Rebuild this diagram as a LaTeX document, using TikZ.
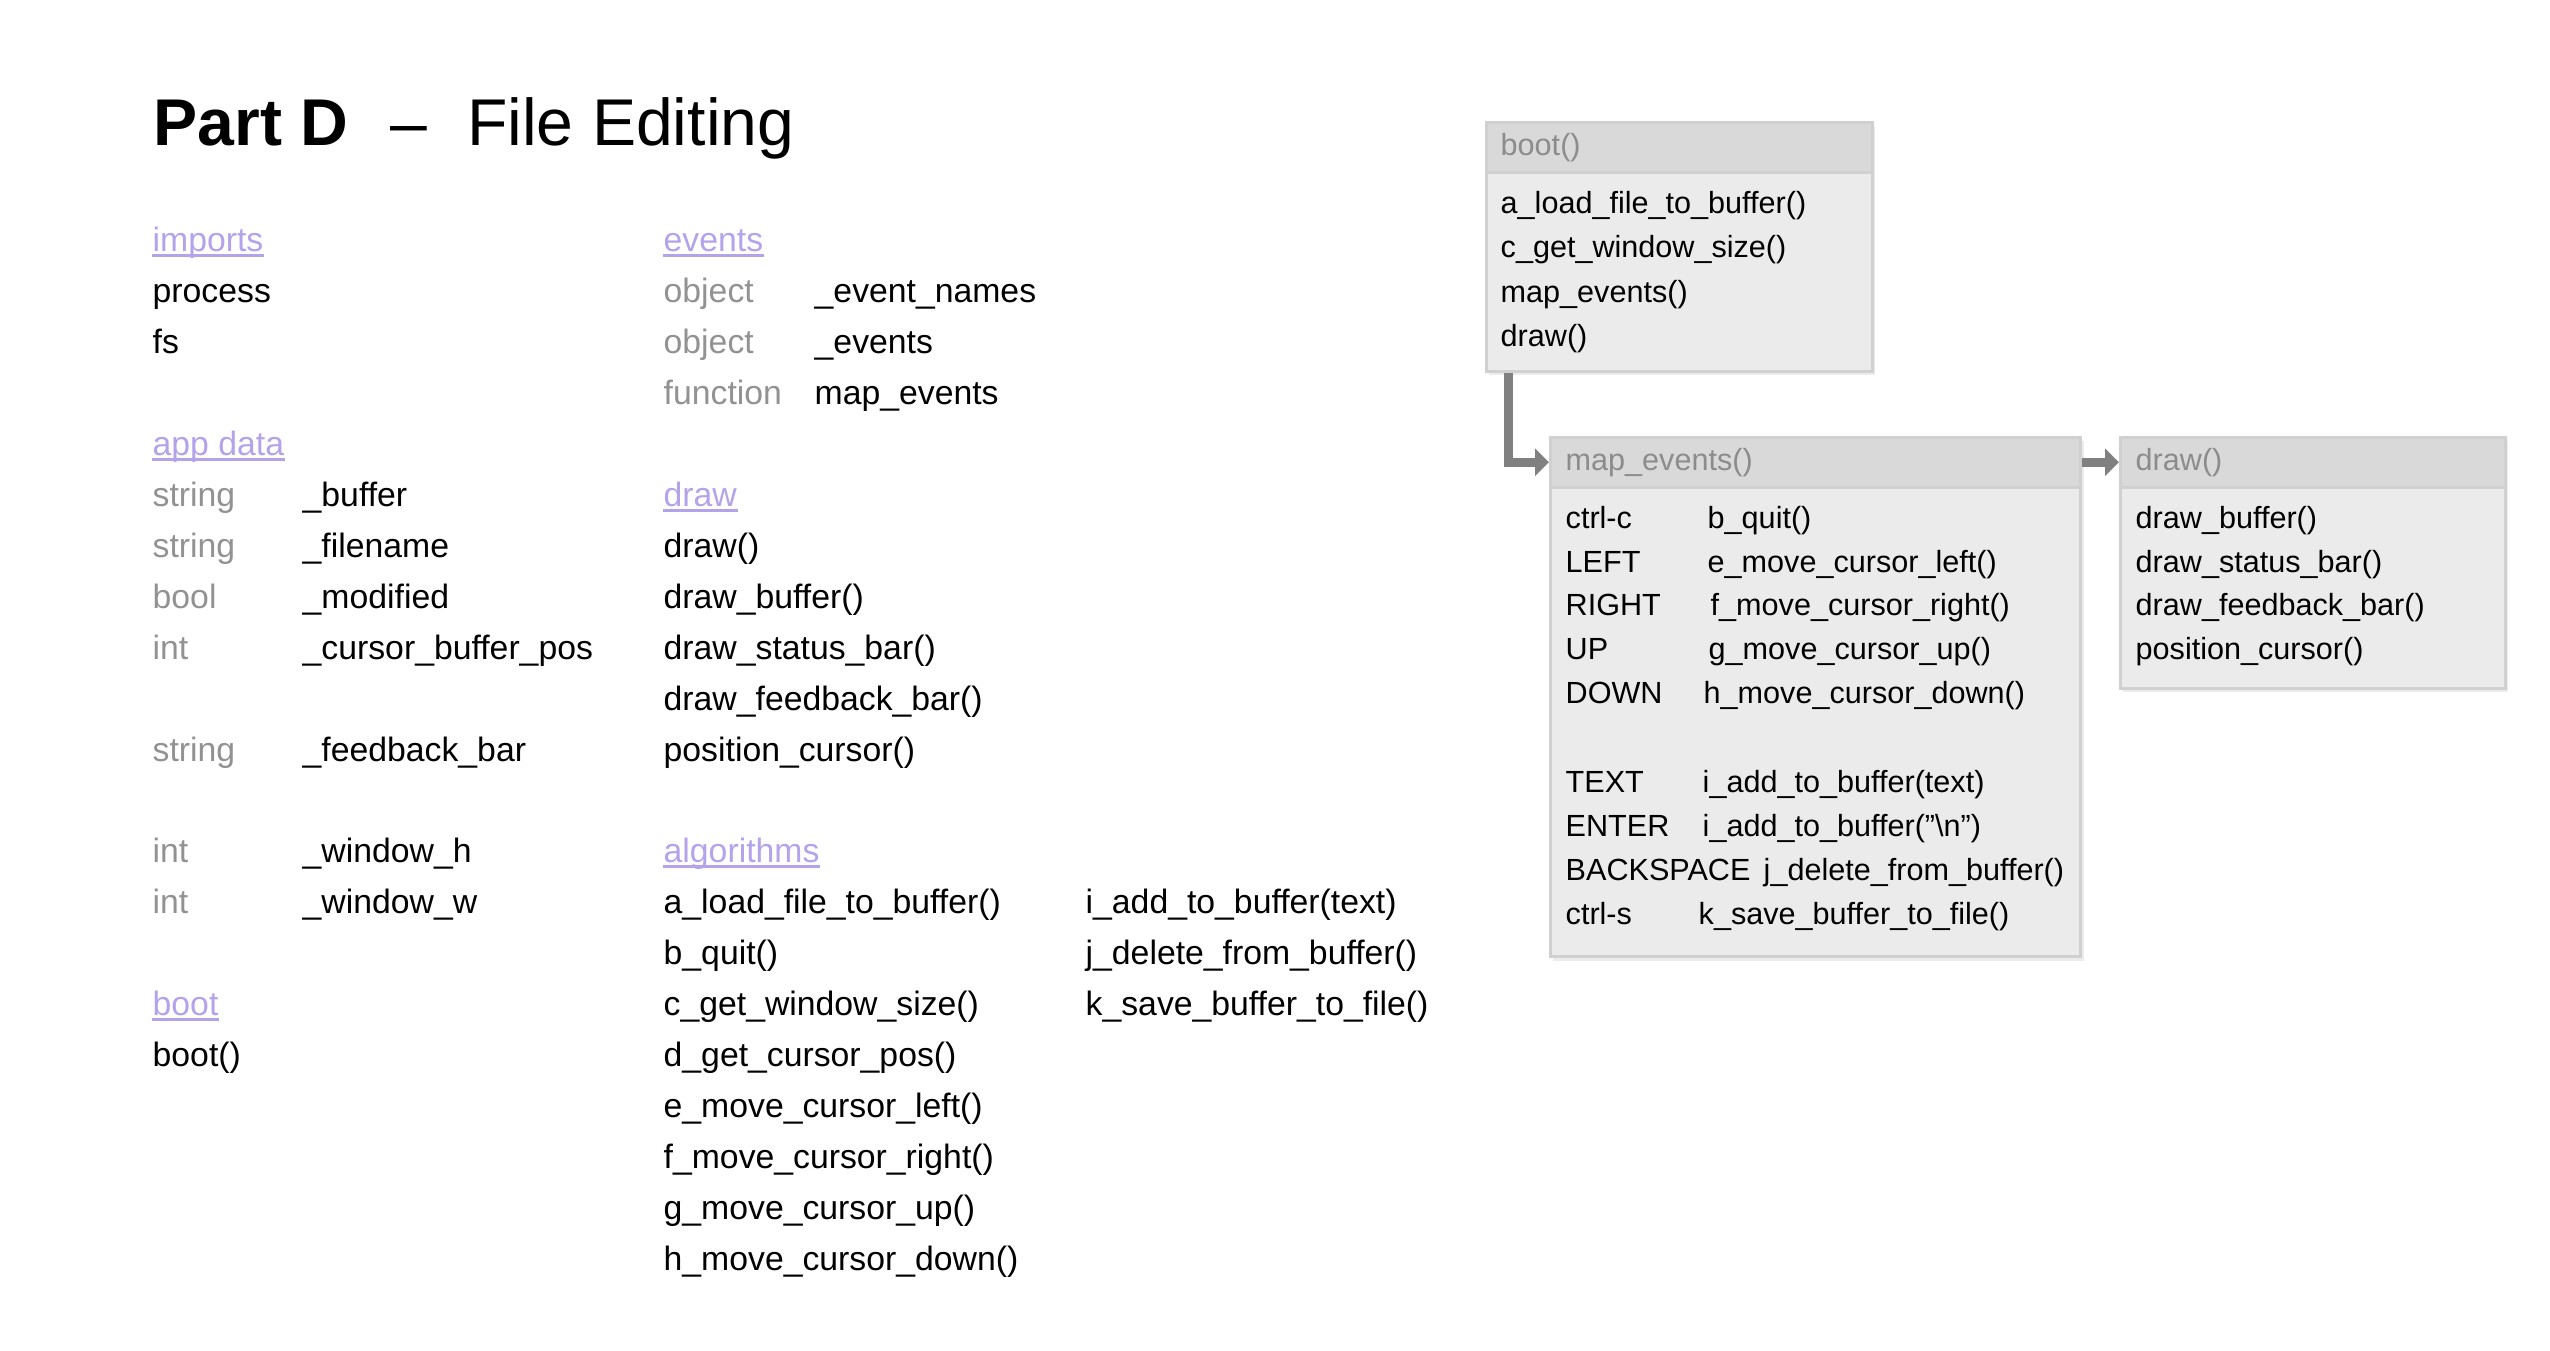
\documentclass[tikz,border=0pt]{standalone}
\usepackage{fontspec}
\setmainfont{Liberation Sans}
\usetikzlibrary{arrows.meta,shadows}
\definecolor{linkpurple}{HTML}{B4A2EA}
\definecolor{typegray}{HTML}{929292}
\definecolor{headgray}{HTML}{8C8C8C}
\definecolor{headfill}{HTML}{D9D9D9}
\definecolor{bodyfill}{HTML}{EBEBEB}
\definecolor{edgegray}{HTML}{D0D0D0}
\definecolor{arrowgray}{HTML}{808080}

\begin{document}
\begin{tikzpicture}[x=0.01cm, y=-0.01cm,
    txt/.style ={anchor=base west, inner sep=0pt, font=\fontsize{9.6}{11}\selectfont},
    typ/.style ={txt, text=typegray},
    hd/.style ={txt, text=linkpurple,
      append after command={([yshift=-0.45mm]\tikzlastnode.base west) edge[draw=linkpurple, line width=0.25mm] ([yshift=-0.45mm]\tikzlastnode.base east)}},
    boxtxt/.style ={anchor=base west, inner sep=0pt, font=\fontsize{8.7}{10}\selectfont},
    boxhd/.style ={boxtxt, text=headgray},
    boxbody/.style ={draw=edgegray, fill=bodyfill, line width=0.25mm, inner sep=0pt, anchor=north west,
      drop shadow={shadow xshift=0.3mm, shadow yshift=-0.4mm, opacity=0.15}},
    boxhead/.style ={draw=edgegray, fill=headfill, line width=0.25mm, inner sep=0pt, anchor=north west},
    conn/.style ={draw=arrowgray, line width=0.09cm, -{Triangle[length=0.14cm, width=0.27cm]}}]
   \useasboundingbox (0,0) rectangle (2550,1351);

   \node[anchor=base west, inner sep=0pt, font=\fontsize{18.8}{22}\selectfont] (title) at (153,145)
      {\textbf{Part D}\hspace{0.42cm}–\hspace{0.40cm}File Editing};

   % left column
   \node[hd] (imp) at (152,251) {imports};
   \node[txt] (proc) at (152,302) {process};
   \node[txt] (fs) at (152,353) {fs};
   \node[hd] (app) at (152,455) {app data};
   \node[typ] (t1) at (152,506) {string};   \node[txt] (v1) at (302,506) {\_buffer};
   \node[typ] (t2) at (152,557) {string};   \node[txt] (v2) at (302,557) {\_filename};
   \node[typ] (t3) at (152,608) {bool};     \node[txt] (v3) at (302,608) {\_modified};
   \node[typ] (t4) at (152,659) {int};      \node[txt] (v4) at (302,659) {\_cursor\_buffer\_pos};
   \node[typ] (t5) at (152,761) {string};   \node[txt] (v5) at (302,761) {\_feedback\_bar};
   \node[typ] (t6) at (152,862) {int};      \node[txt] (v6) at (302,862) {\_window\_h};
   \node[typ] (t7) at (152,913) {int};      \node[txt] (v7) at (302,913) {\_window\_w};
   \node[hd] (bt) at (152,1015) {boot};
   \node[txt] (btf) at (152,1066) {boot()};

   % middle column
   \node[hd] (ev) at (663,251) {events};
   \node[typ] (e1) at (663,302) {object};   \node[txt] (ev1) at (814,302) {\_event\_names};
   \node[typ] (e2) at (663,353) {object};   \node[txt] (ev2) at (814,353) {\_events};
   \node[typ] (e3) at (663,404) {function}; \node[txt] (ev3) at (814,404) {map\_events};
   \node[hd] (dr) at (663,506) {draw};
   \node[txt] (d1) at (663,557) {draw()};
   \node[txt] (d2) at (663,608) {draw\_buffer()};
   \node[txt] (d3) at (663,659) {draw\_status\_bar()};
   \node[txt] (d4) at (663,710) {draw\_feedback\_bar()};
   \node[txt] (d5) at (663,761) {position\_cursor()};
   \node[hd] (alg) at (663,862) {algorithms};
   \node[txt] (a) at (663,913) {a\_load\_file\_to\_buffer()};
   \node[txt] (b) at (663,964) {b\_quit()};
   \node[txt] (c) at (663,1015) {c\_get\_window\_size()};
   \node[txt] (d) at (663,1066) {d\_get\_cursor\_pos()};
   \node[txt] (e) at (663,1117) {e\_move\_cursor\_left()};
   \node[txt] (f) at (663,1168) {f\_move\_cursor\_right()};
   \node[txt] (g) at (663,1219) {g\_move\_cursor\_up()};
   \node[txt] (h) at (663,1270) {h\_move\_cursor\_down()};
   \node[txt] (i) at (1085,913) {i\_add\_to\_buffer(text)};
   \node[txt] (j) at (1085,964) {j\_delete\_from\_buffer()};
   \node[txt] (k) at (1085,1015) {k\_save\_buffer\_to\_file()};

   % boxes
   \node[boxbody, minimum width=3.86cm, minimum height=2.49cm] (boot) at (1485,121) {};
   \node[boxhead, minimum width=3.86cm, minimum height=0.50cm] (booth) at (1485,121) {};
   \node[boxhd] at (1500,155) {boot()};
   \node[boxtxt] (b1) at (1500,213) {a\_load\_file\_to\_buffer()};
   \node[boxtxt] (b2) at (1500,257) {c\_get\_window\_size()};
   \node[boxtxt] (b3) at (1500,302) {map\_events()};
   \node[boxtxt] (b4) at (1500,346) {draw()};

   \node[boxbody, minimum width=5.30cm, minimum height=5.19cm] (mapev) at (1549,436) {};
   \node[boxhead, minimum width=5.30cm, minimum height=0.50cm] (mapevh) at (1549,436) {};
   \node[boxhd] at (1565,470) {map\_events()};
   \node[boxtxt] (k1) at (1565,528) {ctrl-c};     \node[boxtxt] (f1) at (1707,528) {b\_quit()};
   \node[boxtxt] (k2) at (1565,572) {LEFT};       \node[boxtxt] (f2) at (1707,572) {e\_move\_cursor\_left()};
   \node[boxtxt] (k3) at (1565,615) {RIGHT};      \node[boxtxt] (f3) at (1710,615) {f\_move\_cursor\_right()};
   \node[boxtxt] (k4) at (1565,659) {UP};         \node[boxtxt] (f4) at (1708,659) {g\_move\_cursor\_up()};
   \node[boxtxt] (k5) at (1565,703) {DOWN};       \node[boxtxt] (f5) at (1703,703) {h\_move\_cursor\_down()};
   \node[boxtxt] (k6) at (1565,792) {TEXT};       \node[boxtxt] (f6) at (1702,792) {i\_add\_to\_buffer(text)};
   \node[boxtxt] (k7) at (1565,836) {ENTER};      \node[boxtxt] (f7) at (1702,836) {i\_add\_to\_buffer("\textbackslash n")};
   \node[boxtxt] (k8) at (1565,880) {BACKSPACE};  \node[boxtxt] (f8) at (1763,880) {j\_delete\_from\_buffer()};
   \node[boxtxt] (k9) at (1565,924) {ctrl-s};     \node[boxtxt] (f9) at (1698,924) {k\_save\_buffer\_to\_file()};

   \node[boxbody, minimum width=3.85cm, minimum height=2.51cm] (drawb) at (2119,436) {};
   \node[boxhead, minimum width=3.85cm, minimum height=0.50cm] (drawbh) at (2119,436) {};
   \node[boxhd] at (2135,470) {draw()};
   \node[boxtxt] (w1) at (2135,528) {draw\_buffer()};
   \node[boxtxt] (w2) at (2135,572) {draw\_status\_bar()};
   \node[boxtxt] (w3) at (2135,615) {draw\_feedback\_bar()};
   \node[boxtxt] (w4) at (2135,659) {position\_cursor()};

   \draw[conn] ([xshift=0.23cm]boot.south west) |- (mapevh.west);
   \draw[conn] (mapevh.east) to (drawbh.west);

 \end{tikzpicture}
\end{document}
